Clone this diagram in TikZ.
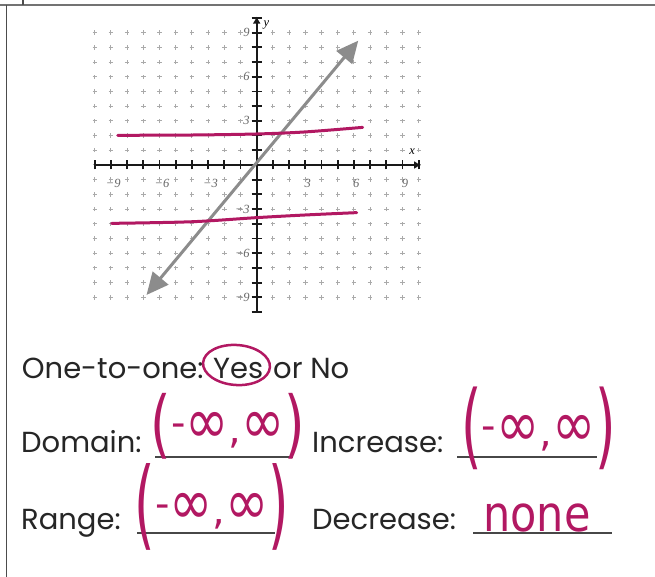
\documentclass[tikz,border=0pt]{standalone}
\usepackage{fontspec}
\usepackage{graphicx}
\usetikzlibrary{arrows.meta}
\newfontfamily\gothic{Poppins}
\newfontfamily\handf{DejaVu Sans}
\newfontfamily\axf{Liberation Serif}
\definecolor{ink}{RGB}{178,24,98}
\definecolor{txt}{RGB}{38,38,38}
\definecolor{gline}{RGB}{140,140,140}
\definecolor{dotc}{RGB}{170,170,170}
% handwritten paren: raise (pt), vertical scale, glyph
\newcommand\hwp[3]{\raisebox{#1pt}{\fontsize{50}{50}\selectfont\scalebox{1.05}[#2]{#3}}}
% handwritten infinity
\newcommand\hwi{\scalebox{1.3}[1.6]{∞}}
\newcommand\hwd{\raisebox{7pt}{-}}
\begin{document}
\begin{tikzpicture}[x=1pt,y=-1pt,
  lab/.style={font=\gothic\fontsize{29}{29}\selectfont, text=txt, inner sep=0pt, anchor=base west},
  hw/.style={font=\handf\fontsize{40}{40}\selectfont, text=ink, inner sep=0pt},
  uline/.style={line width=2pt, draw=txt!85},
  hline/.style={draw=ink, line width=3pt, line cap=round, line join=round},
  axlab/.style={font=\axf\itshape\fontsize{12.5}{12.5}\selectfont, text=black!60, inner sep=0pt},
  axis/.style={line width=2.2pt, draw=black!90},
  tick/.style={line width=1.8pt, draw=black!90},
  ]
\useasboundingbox (0,0) rectangle (655,577);
\fill[white] (0,0) rectangle (655,577);
% frame
\draw[line width=2pt, draw=black!55] (0,5) -- (655,5);
\draw[line width=1.5pt, draw=black!70] (6.5,5) -- (6.5,577);
\draw[line width=1.5pt, draw=black!70] (23,0) -- (23,5);

\begin{scope}[shift={(256.7pt,-165pt)}, x=16.2pt, y=14.7pt]
  \foreach \i in {-10,...,10}{
    \foreach \j in {-9,...,9}{
      \draw[dotc, line width=1pt] (\i,\j) ++(-2.2pt,0pt) -- ++(4.4pt,0pt);
      \draw[dotc, line width=1pt] (\i,\j) ++(0pt,-2.2pt) -- ++(0pt,4.4pt);
    }
  }
  % axes
  \draw[axis, -{Latex[length=7pt,width=8pt]}] (-10,0) -- (10.15,0);
  \draw[axis, -{Latex[length=7pt,width=8pt]}] (0,-10) -- (0,10.1);
  \foreach \i in {-10,...,10}{
    \ifnum\i=0\else
      \draw[tick] (\i,0) ++(0pt,-4.5pt) -- ++(0pt,9pt);
      \draw[tick] (0,\i) ++(-5pt,0pt) -- ++(10pt,0pt);
    \fi
  }
  \foreach \v/\t in {-9/−9,-6/−6,-3/−3,3/3,6/6,9/9}{
    \node[axlab] (xl\v) at (\v+0.15,-1.25) {\t};
    \node[axlab, anchor=east] (yl\v) at (-0.42,\v) {\t};
  }
  \node[axlab, text=black] (xlab) at (9.6,0.9) {x};
  \node[axlab, text=black] (ylab) at (0.6,9.5) {y};
  % gray line
  \draw[gline, line width=3pt, {Triangle[length=22pt,width=20pt]}-{Triangle[length=22pt,width=20pt]}] (-6.8,-8.84) -- (6.27,8.46);
  % magenta lines
  \draw[hline] plot[smooth] coordinates {(-8.58,2.02) (-4,2.04) (0,2.11) (3,2.25) (6.54,2.56)};
  \draw[hline] plot[smooth] coordinates {(-8.95,-3.97) (-4,-3.86) (0,-3.58) (3,-3.4) (6.17,-3.24)};
\end{scope}

% text
\node[lab] (oto) at (21.7,378) {One-to-one:};
\node[lab] (yes) at (213,378) {Yes};
\node[lab] (orno) at (273,378) {or No};
\draw[ink, line width=2.5pt, rotate around={-4:(236.5,365)}] (236.5,365) ellipse [x radius=33.5pt, y radius=20pt];

\node[lab] (dom) at (21,452) {Domain:};
\node[lab] (inc) at (312,452) {Increase:};
\node[lab] (rng) at (21,529) {Range:};
\node[lab] (dec) at (312,529) {Decrease:};
\draw[uline] (155,456.5) -- (293,456.5);
\draw[uline] (457,456.5) -- (597,456.5);
\draw[uline] (137,533) -- (275,533);
\draw[uline] (473,533) -- (612,533);

% handwritten answers
\node[hw] (ansdom) at (228,426) {\hwp{-5.4}{1.48}{(}\hwd\hwi,\hwi\hwp{-5.4}{1.48}{)}};
\node[hw] (ansinc) at (538.5,428.5) {\hwp{-11.4}{1.86}{(}\hwd\hwi,\hwi\hwp{-11.4}{1.86}{)}};
\node[hw] (ansrng) at (212,506.5) {\hwp{-12.8}{1.95}{(}\hwd\hwi,\hwi\hwp{-12.8}{1.95}{)}};
\node[hw, font=\handf\fontsize{43}{43}\selectfont, anchor=base west] (ansdec) at (483,531) {\scalebox{1}[1.15]{none}};
\end{tikzpicture}
\end{document}
